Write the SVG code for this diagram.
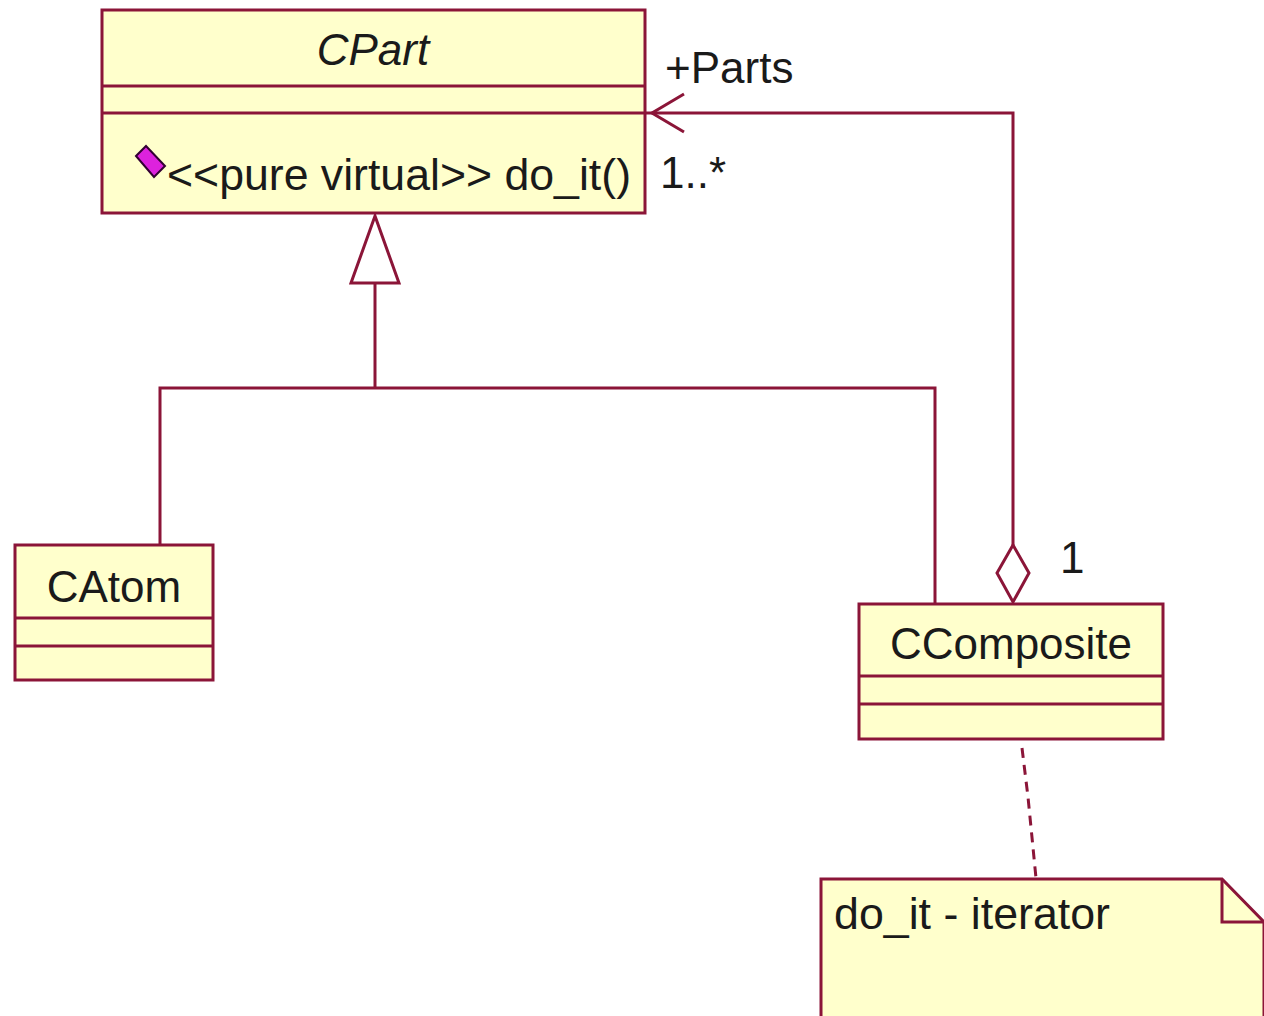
<svg xmlns="http://www.w3.org/2000/svg" width="1264" height="1016" viewBox="0 0 1264 1016">
<style>
.box{fill:#FFFFCC;stroke:#8B1538;stroke-width:3}
.ln{fill:none;stroke:#8B1538;stroke-width:3}
.t{font-family:"Liberation Sans",Arial,sans-serif;font-size:44px;fill:#1a1a1a}
.c{text-anchor:middle}
</style>
<rect width="1264" height="1016" fill="#ffffff"/>
<g id="connectors">
  <!-- generalization -->
  <polyline class="ln" points="160,545 160,388 935,388 935,603"/>
  <line class="ln" x1="375" y1="388" x2="375" y2="283"/>
  <polygon class="ln" points="375,216 351,283 399,283" fill="#ffffff"/>
  <!-- association / aggregation -->
  <polyline class="ln" points="646,113 1013,113 1013,545"/>
  <polyline class="ln" points="684,94 652,113 684,132"/>
  <polygon class="ln" points="1013,545 1029,573 1013,602 997,573" fill="#ffffff"/>
  <text class="t" x="665" y="83">+Parts</text>
  <text class="t" x="660" y="188">1..*</text>
  <text class="t" x="1060" y="573">1</text>
  <!-- note anchor -->
  <polyline class="ln" points="1022,748 1028,797 1036,878" stroke-dasharray="10,7" stroke-width="2.5"/>
</g>
<g id="CPart">
  <rect class="box" x="102" y="10" width="543" height="203"/>
  <line class="ln" x1="102" y1="86" x2="645" y2="86"/>
  <line class="ln" x1="102" y1="113" x2="645" y2="113"/>
  <text class="t c" x="373" y="65" font-style="italic">CPart</text>
  <polygon points="136,156 146,146 165,166 154,177" fill="#DD22DD" stroke="#330033" stroke-width="2"/>
  <text class="t" x="167" y="190" textLength="464" lengthAdjust="spacingAndGlyphs">&lt;&lt;pure virtual&gt;&gt; do_it()</text>
</g>
<g id="CAtom">
  <rect class="box" x="15" y="545" width="198" height="135"/>
  <line class="ln" x1="15" y1="618" x2="213" y2="618"/>
  <line class="ln" x1="15" y1="646" x2="213" y2="646"/>
  <text class="t c" x="114" y="602">CAtom</text>
</g>
<g id="CComposite">
  <rect class="box" x="859" y="604" width="304" height="135"/>
  <line class="ln" x1="859" y1="676" x2="1163" y2="676"/>
  <line class="ln" x1="859" y1="704" x2="1163" y2="704"/>
  <text class="t c" x="1011" y="659">CComposite</text>
</g>
<g id="note">
  <polygon class="box" points="821,1020 821,879 1222,879 1264,922 1264,1020"/>
  <polyline class="ln" points="1222,879 1222,922 1264,922"/>
  <text class="t" x="834" y="929" textLength="276" lengthAdjust="spacingAndGlyphs">do_it - iterator</text>
</g>
</svg>
